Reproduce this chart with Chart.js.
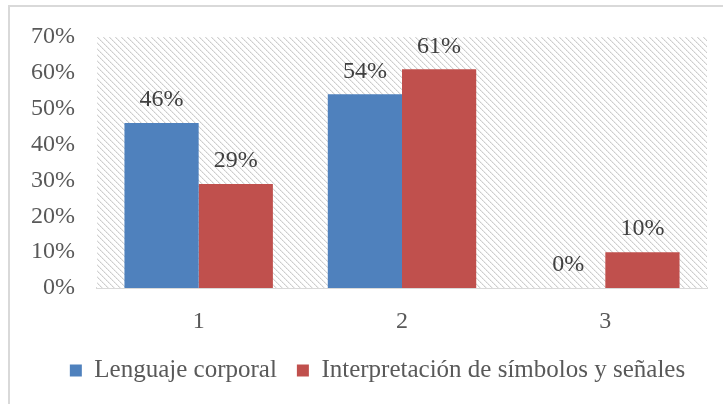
<!DOCTYPE html>
<html>
<head>
<meta charset="utf-8">
<script src="https://cdn.jsdelivr.net/npm/chart.js@4/dist/chart.umd.min.js"></script>
<style>
  html, body { margin: 0; padding: 0; background: #fff; overflow: hidden; }
  #wrap { position: relative; width: 723px; height: 404px; }
  #frame { position: absolute; left: 8px; top: 5px; width: 800px; height: 500px; border: 2px solid #d9d9d9; box-sizing: border-box; }
  canvas { position: absolute; left: 0; top: 0; }
</style>
</head>
<body>
<div id="wrap">
  <div id="frame"></div>
  <canvas id="c" width="723" height="404"></canvas>
</div>
<script>
const categories = ['1', '2', '3'];
const seriesNames = ['Lenguaje corporal', 'Interpretación de símbolos y señales'];
const lenguajeCorporal = [46, 54, 0];
const interpretacion = [29, 61, 10];
const yTicks = [0, 10, 20, 30, 40, 50, 60, 70];

const FONT = 'Liberation Serif';
const FS = 24;

function makePattern() {
  const t = document.createElement('canvas');
  t.width = 6; t.height = 6;
  const g = t.getContext('2d');
  g.fillStyle = '#ffffff';
  g.fillRect(0, 0, 6, 6);
  for (let i = 0; i < 6; i++) {
    g.fillStyle = (i % 2 === 0) ? '#cccccc' : '#d8d8d8';
    g.fillRect(i, i, 1, 1);
    g.fillStyle = '#eeeeee';
    g.fillRect((i + 1) % 6, i, 1, 1);
  }
  return document.getElementById('c').getContext('2d').createPattern(t, 'repeat');
}

const hatchPlugin = {
  id: 'hatch',
  beforeDatasetsDraw(chart) {
    const {ctx, chartArea: a} = chart;
    ctx.save();
    ctx.fillStyle = makePattern();
    ctx.fillRect(a.left, a.top, a.right - a.left, a.bottom - a.top);
    ctx.restore();
  }
};

const legendShift = {
  id: 'legendShift',
  afterLayout(chart) {
    if (chart.legend) {
      chart.legend.left += 24;
      chart.legend.right += 24;
    }
  }
};

const labelPlugin = {
  id: 'valLabels',
  afterDatasetsDraw(chart) {
    const {ctx} = chart;
    ctx.save();
    ctx.font = FS + 'px "' + FONT + '"';
    ctx.fillStyle = '#404040';
    ctx.textAlign = 'center';
    ctx.textBaseline = 'middle';
    chart.data.datasets.forEach((ds, di) => {
      const meta = chart.getDatasetMeta(di);
      meta.data.forEach((bar, i) => {
        ctx.fillText(ds.data[i] + '%', bar.x, bar.y - 23);
      });
    });
    ctx.restore();
  }
};

new Chart(document.getElementById('c'), {
  type: 'bar',
  data: {
    labels: categories,
    datasets: [
      { label: seriesNames[0], data: lenguajeCorporal, backgroundColor: '#4f81bd', borderWidth: 0 },
      { label: seriesNames[1], data: interpretacion, backgroundColor: '#c0504d', borderWidth: 0 }
    ]
  },
  options: {
    responsive: false,
    animation: false,
    devicePixelRatio: 1,
    layout: { padding: { left: 0, right: 16, top: 37, bottom: 11 } },
    datasets: { bar: { barPercentage: 1, categoryPercentage: 0.73 } },
    plugins: {
      tooltip: { enabled: false },
      legend: {
        position: 'bottom',
        labels: {
          boxWidth: 12, boxHeight: 12, padding: 20,
          color: '#595959',
          font: { family: FONT, size: 25 }
        }
      }
    },
    scales: {
      x: {
        grid: { display: false, drawTicks: false },
        border: { display: true, color: '#d9d9d9', width: 2 },
        ticks: { color: '#595959', font: { family: FONT, size: FS }, padding: 19 },
        afterFit(s) { s.height = 50; }
      },
      y: {
        min: 0, max: 70,
        grid: { display: false, drawTicks: false },
        border: { display: false },
        afterBuildTicks(s) { s.ticks = yTicks.map(v => ({ value: v })); },
        ticks: {
          color: '#595959', font: { family: FONT, size: FS }, padding: 22,
          callback: v => v + '%'
        },
        afterFit(s) { s.width = 97; }
      }
    }
  },
  plugins: [hatchPlugin, legendShift, labelPlugin]
});
</script>
</body>
</html>
